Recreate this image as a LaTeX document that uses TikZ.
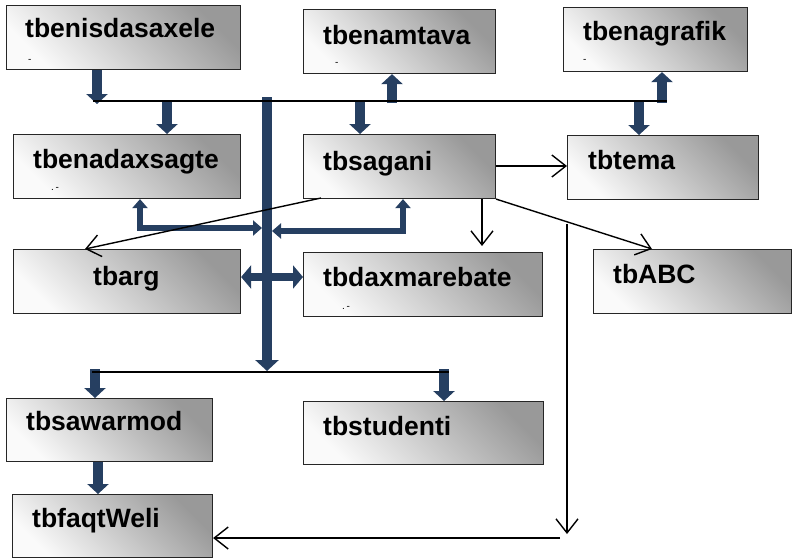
\documentclass[tikz,border=0pt]{standalone}
\usepackage{fontspec}
\setmainfont{Liberation Sans}
\usetikzlibrary{arrows.meta}
\definecolor{navy}{HTML}{263F61}
\begin{document}
\begin{tikzpicture}[x=1pt,y=-1pt,
  box/.style={draw=black!85, line width=1.1pt, top color=black!40, bottom color=black!2,
    shading angle=-45, anchor=north west, inner sep=0pt},
  lbl/.style={font=\fontsize{26.5}{30}\selectfont\bfseries, anchor=base west, inner sep=0pt},
  tiny/.style={font=\fontsize{10}{11}\selectfont, anchor=base west, inner sep=0pt},
  fat/.style={draw=navy, line width=10pt, -{Triangle[width=21pt,length=10pt]}},
  fatd/.style={draw=navy, line width=8pt, {Triangle[width=23pt,length=10pt]}-{Triangle[width=23pt,length=10pt]}},
  brk/.style={draw=navy, line width=5.5pt, line join=miter, {Triangle[width=15pt,length=9pt]}-{Triangle[width=15pt,length=9pt]}},
  bus/.style={draw=black, line width=1.5pt},
  thin/.style={draw=black, line width=1.4pt, -{Straight Barb[length=14pt,width=22pt,line width=1.4pt]}}]
\useasboundingbox (0,0) rectangle (794,558);

% boxes
\node[box, minimum width=234pt, minimum height=64pt] (nis) at (6,5) {};
\node[box, minimum width=192pt, minimum height=64pt] (amt) at (303,9) {};
\node[box, minimum width=184pt, minimum height=64pt] (gra) at (563,7) {};
\node[box, minimum width=227pt, minimum height=64pt] (adx) at (13,134) {};
\node[box, minimum width=192pt, minimum height=64pt] (sag) at (303,134) {};
\node[box, minimum width=191pt, minimum height=64pt] (tem) at (567,135) {};
\node[box, minimum width=227pt, minimum height=64pt] (arg) at (13,249) {};
\node[box, minimum width=239pt, minimum height=64pt] (dxm) at (303,252) {};
\node[box, minimum width=198pt, minimum height=64pt] (abc) at (593,249) {};
\node[box, minimum width=206pt, minimum height=63pt] (saw) at (6,398) {};
\node[box, minimum width=240pt, minimum height=63pt] (stu) at (303,401) {};
\node[box, minimum width=200pt, minimum height=63pt] (faq) at (12,494) {};

% labels
\node[lbl] (nist) at (25,37) {tbenisdasaxele};
\node[lbl] (amtt) at (323,44) {tbenamtava};
\node[lbl] (grat) at (583,40) {tbenagrafik};
\node[lbl] (adxt) at (33,168) {tbenadaxsagte};
\node[lbl] (sagt) at (323,170) {tbsagani};
\node[lbl] (temt) at (588,169) {tbtema};
\node[lbl] (argt) at (93,285) {tbarg};
\node[lbl] (dxmt) at (323,286) {tbdaxmarebate};
\node[lbl] (abct) at (613,283) {tbABC};
\node[lbl] (sawt) at (26,430) {tbsawarmod};
\node[lbl] (stut) at (323,435) {tbstudenti};
\node[lbl] (faqt) at (32,527) {tbfaqtWeli};

\node[tiny] (nisd) at (28,62) {-};
\node[tiny] (amtd) at (335,65) {-};
\node[tiny] (grad) at (583,62) {-};
\node[tiny] (adxd) at (51,190) {.\,-};
\node[tiny] (dxmd) at (342,309) {.\,-};

% bus coordinates
\coordinate (tbL) at (93,101);
\coordinate (tbR) at (667,101);
\coordinate (bbL) at (92,372);
\coordinate (bbR) at (449,372);
\coordinate (barT) at (267,97);
\coordinate (barB) at (267,371);

% thick arrows
\draw[fat] (nis.south -| 97,0) -- (97,104);
\draw[fat] (167,100) -- (adx.north -| 167,0);
\draw[fat] (360,100) -- (sag.north -| 360,0);
\draw[fat] (392,103) -- (amt.south -| 392,0);
\draw[fat] (662,103) -- (gra.south -| 662,0);
\draw[fat] (639,101) -- (tem.north -| 639,0);
\draw[draw=navy, line width=10pt, -{Triangle[width=23pt,length=11pt]}] (barT) -- (barB);
\draw[fat] (95,369) -- (saw.north -| 95,0);
\draw[fat] (444,369) -- (stu.north -| 444,0);
\draw[fat] (saw.south -| 98,0) -- (faq.north -| 98,0);

\draw[brk] (adx.south -| 140,0) -- (140,228) -- (262,228);
\draw[brk] (sag.south -| 403,0) -- (403,231) -- (272,231);
\draw[fatd] (arg.east |- 0,277) -- (dxm.west |- 0,277);

% buses
\draw[bus] (tbL) -- (tbR);
\draw[bus] (bbL) -- (bbR);

% thin arrows
\coordinate (s1) at (321,198);
\draw[thin] (s1) -- (arg.north -| 85,0);
\draw[thin] (sag.east |- 0,166) -- (tem.west |- 0,166);
\draw[thin] (sag.south -| 482,0) -- (482,246);
\draw[thin] (sag.south east) -- (abc.north -| 652,0);
\coordinate (v1) at (567,224);
\coordinate (v2) at (567,534);
\draw[thin] (v1) -- (v2);
\coordinate (h1) at (560,538);
\draw[thin] (h1) -- (faq.east |- h1);
\end{tikzpicture}
\end{document}
